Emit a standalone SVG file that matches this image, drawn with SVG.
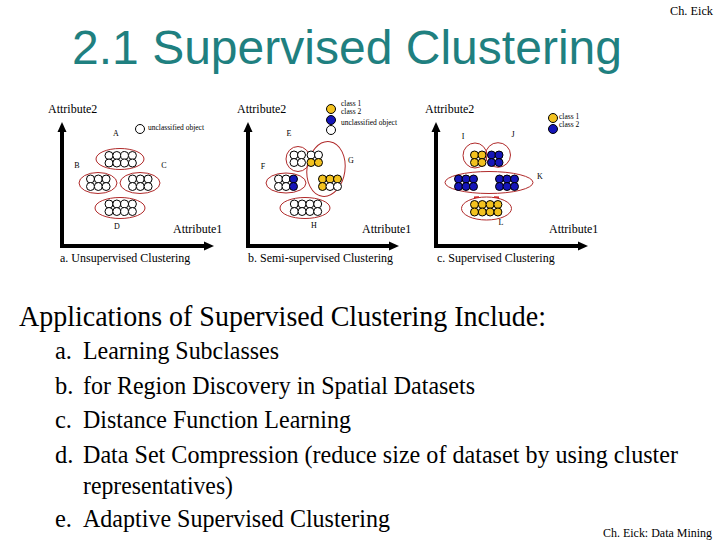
<svg xmlns="http://www.w3.org/2000/svg" width="720" height="540" viewBox="0 0 720 540">
<style>
.ser{font-family:"Liberation Serif","Times New Roman",serif;fill:#000}
.ax{font-size:12px}
.cap{font-size:12px}
.lb{font-size:8px;text-anchor:middle}
.sm{font-size:7.5px}
.w{fill:#fff;stroke:#000;stroke-width:1}
.y{fill:#f3c21f;stroke:#000;stroke-width:1}
.b{fill:#1515b8;stroke:#000;stroke-width:1}
.el{fill:none;stroke:#b02a2a;stroke-width:1}
.axis{fill:none;stroke:#000;stroke-width:4;marker-start:url(#ah);marker-end:url(#ah)}
.big{font-size:29px}
.li{font-size:24.5px}
</style>
<defs>
<marker id="ah" viewBox="0 0 10 10" markerWidth="10" markerHeight="10" refX="2" refY="5" orient="auto-start-reverse" markerUnits="userSpaceOnUse">
<path d="M0,0.5 L10,5 L0,9.5 z" fill="#000"/>
</marker>
</defs>
<rect width="720" height="540" fill="#fff"/>
<text x="670" y="15" class="ser" font-size="12" textLength="43" lengthAdjust="spacingAndGlyphs">Ch. Eick</text>
<text x="72" y="64" font-family="Liberation Sans, Arial, sans-serif" font-size="48" fill="#1f8080" textLength="550">2.1 Supervised Clustering</text>

<g id="connectors">
<path class="axis" d="M62,130 L62,246 L206,246"/>
<path class="axis" d="M248,130 L248,246 L391,246"/>
<path class="axis" d="M436,130 L436,246 L580,246"/>
</g>

<g id="panel-a">
<text x="48" y="113" class="ser ax">Attribute2</text>
<text x="173" y="233" class="ser ax">Attribute1</text>
<text x="60" y="262" class="ser cap">a. Unsupervised Clustering</text>
<text x="116" y="136" class="ser lb">A</text>
<text x="77" y="168" class="ser lb">B</text>
<text x="164" y="168" class="ser lb">C</text>
<text x="117" y="229" class="ser lb">D</text>
<circle cx="140" cy="129" r="4.5" class="w"/>
<text x="148" y="130" class="ser sm">unclassified object</text>
<g id="cluster-a-top">
<ellipse cx="120" cy="159" rx="24" ry="10.5" class="el"/>
<circle cx="109" cy="155.5" r="4" class="w"/><circle cx="116.8" cy="155.5" r="4" class="w"/><circle cx="124.6" cy="155.5" r="4" class="w"/><circle cx="132.4" cy="155.5" r="4" class="w"/>
<circle cx="109" cy="163" r="4" class="w"/><circle cx="116.8" cy="163" r="4" class="w"/><circle cx="124.6" cy="163" r="4" class="w"/><circle cx="132.4" cy="163" r="4" class="w"/>
</g>
<g id="cluster-a-left">
<ellipse cx="98" cy="183" rx="19" ry="10.5" class="el"/>
<circle cx="90.5" cy="179" r="4" class="w"/><circle cx="98.3" cy="179" r="4" class="w"/><circle cx="106.1" cy="179" r="4" class="w"/>
<circle cx="90.5" cy="186.5" r="4" class="w"/><circle cx="98.3" cy="186.5" r="4" class="w"/><circle cx="106.1" cy="186.5" r="4" class="w"/>
</g>
<g id="cluster-a-right">
<ellipse cx="140" cy="183" rx="20" ry="10.5" class="el"/>
<circle cx="132.5" cy="179" r="4" class="w"/><circle cx="140.3" cy="179" r="4" class="w"/><circle cx="148.1" cy="179" r="4" class="w"/>
<circle cx="132.5" cy="186.5" r="4" class="w"/><circle cx="140.3" cy="186.5" r="4" class="w"/><circle cx="148.1" cy="186.5" r="4" class="w"/>
</g>
<g id="cluster-a-bottom">
<ellipse cx="120" cy="208" rx="25" ry="10.5" class="el"/>
<circle cx="109" cy="204" r="4" class="w"/><circle cx="116.8" cy="204" r="4" class="w"/><circle cx="124.6" cy="204" r="4" class="w"/><circle cx="132.4" cy="204" r="4" class="w"/>
<circle cx="109" cy="211.5" r="4" class="w"/><circle cx="116.8" cy="211.5" r="4" class="w"/><circle cx="124.6" cy="211.5" r="4" class="w"/><circle cx="132.4" cy="211.5" r="4" class="w"/>
</g>
</g>

<g id="panel-b">
<text x="237" y="113" class="ser ax">Attribute2</text>
<text x="362" y="233" class="ser ax">Attribute1</text>
<text x="248" y="262" class="ser cap">b. Semi-supervised Clustering</text>
<g id="legend-b">
<circle cx="331" cy="109" r="4.5" class="y"/>
<circle cx="331" cy="120" r="4.5" class="b"/>
<circle cx="331" cy="130" r="4.5" class="w"/>
<text x="341" y="106" class="ser sm">class 1</text>
<text x="341" y="114" class="ser sm">class 2</text>
<text x="341" y="125" class="ser sm">unclassified object</text>
</g>
<text x="289" y="136" class="ser lb">E</text>
<text x="263" y="169" class="ser lb">F</text>
<text x="351" y="163" class="ser lb">G</text>
<text x="314" y="228" class="ser lb">H</text>
<g id="cluster-E">
<ellipse cx="298" cy="159" rx="12" ry="12.5" class="el"/>
</g>
<g id="cluster-G">
<ellipse cx="326" cy="169" rx="19" ry="27.5" transform="rotate(8 326 169)" class="el"/>
</g>
<g id="points-EG">
<circle cx="294" cy="155" r="4" class="w"/><circle cx="301.5" cy="155" r="4" class="w"/><circle cx="311" cy="155" r="4" class="w"/><circle cx="318.5" cy="155" r="4" class="w"/>
<circle cx="294" cy="162.5" r="4" class="w"/><circle cx="301.5" cy="162.5" r="4" class="w"/><circle cx="311" cy="162.5" r="4" class="y"/><circle cx="318.5" cy="162.5" r="4" class="y"/>
<circle cx="322.5" cy="179" r="4" class="y"/><circle cx="330" cy="179" r="4" class="y"/><circle cx="337.5" cy="179" r="4" class="y"/>
<circle cx="322.5" cy="186.5" r="4" class="y"/><circle cx="330" cy="186.5" r="4" class="w"/><circle cx="337.5" cy="186.5" r="4" class="w"/>
</g>
<g id="cluster-F">
<ellipse cx="286" cy="183" rx="20" ry="10" class="el"/>
<circle cx="278.5" cy="179" r="4" class="w"/><circle cx="286" cy="179" r="4" class="w"/><circle cx="293.5" cy="179" r="4" class="b"/>
<circle cx="278.5" cy="186.5" r="4" class="w"/><circle cx="286" cy="186.5" r="4" class="w"/><circle cx="293.5" cy="186.5" r="4" class="b"/>
</g>
<g id="cluster-H">
<ellipse cx="305" cy="208" rx="25" ry="10.5" class="el"/>
<circle cx="294.3" cy="204" r="4" class="w"/><circle cx="302.1" cy="204" r="4" class="w"/><circle cx="309.9" cy="204" r="4" class="w"/><circle cx="317.7" cy="204" r="4" class="w"/>
<circle cx="294.3" cy="211.5" r="4" class="w"/><circle cx="302.1" cy="211.5" r="4" class="w"/><circle cx="309.9" cy="211.5" r="4" class="w"/><circle cx="317.7" cy="211.5" r="4" class="w"/>
</g>
</g>

<g id="panel-c">
<text x="425" y="113" class="ser ax">Attribute2</text>
<text x="549" y="233" class="ser ax">Attribute1</text>
<text x="437" y="262" class="ser cap">c. Supervised Clustering</text>
<g id="legend-c">
<circle cx="553" cy="118" r="4.5" class="y"/>
<circle cx="553" cy="129" r="4.5" class="b"/>
<text x="559" y="119" class="ser sm">class 1</text>
<text x="559" y="127" class="ser sm">class 2</text>
</g>
<text x="463" y="139" class="ser lb">I</text>
<text x="513" y="137" class="ser lb">J</text>
<text x="540" y="179" class="ser lb">K</text>
<text x="501" y="225" class="ser lb">L</text>
<g id="cluster-I">
<ellipse cx="475" cy="155.5" rx="12" ry="12.5" class="el"/>
</g>
<g id="cluster-J">
<ellipse cx="498" cy="155" rx="12.5" ry="12.3" class="el"/>
</g>
<g id="points-IJ">
<circle cx="474.5" cy="155" r="4" class="y"/><circle cx="482" cy="155" r="4" class="y"/>
<circle cx="474.5" cy="162.5" r="4" class="y"/><circle cx="482" cy="162.5" r="4" class="y"/>
<circle cx="491.5" cy="155" r="4" class="b"/><circle cx="499" cy="155" r="4" class="b"/>
<circle cx="491.5" cy="162.5" r="4" class="b"/><circle cx="499" cy="162.5" r="4" class="b"/>
</g>
<g id="cluster-K">
<ellipse cx="489" cy="182.5" rx="44" ry="11" class="el"/>
<circle cx="458.5" cy="179" r="4" class="b"/><circle cx="466" cy="179" r="4" class="b"/><circle cx="473.5" cy="179" r="4" class="b"/>
<circle cx="458.5" cy="186.5" r="4" class="b"/><circle cx="466" cy="186.5" r="4" class="b"/><circle cx="473.5" cy="186.5" r="4" class="b"/>
<circle cx="499.5" cy="179" r="4" class="b"/><circle cx="507" cy="179" r="4" class="b"/><circle cx="514.5" cy="179" r="4" class="b"/>
<circle cx="499.5" cy="186.5" r="4" class="b"/><circle cx="507" cy="186.5" r="4" class="b"/><circle cx="514.5" cy="186.5" r="4" class="b"/>
</g>
<g id="cluster-L">
<ellipse cx="486.5" cy="208.5" rx="25" ry="11.5" class="el"/>
<path d="M474,197.3 L479,197.1 M494,197.1 L499,197.3" stroke="#d02020" stroke-width="1.5" fill="none"/>
<circle cx="474.5" cy="204.5" r="4" class="y"/><circle cx="482.3" cy="204.5" r="4" class="y"/><circle cx="490.1" cy="204.5" r="4" class="y"/><circle cx="497.9" cy="204.5" r="4" class="y"/>
<circle cx="474.5" cy="212" r="4" class="y"/><circle cx="482.3" cy="212" r="4" class="y"/><circle cx="490.1" cy="212" r="4" class="y"/><circle cx="497.9" cy="212" r="4" class="y"/>
</g>
</g>

<g id="applications">
<text x="19" y="326" class="ser big" textLength="527" lengthAdjust="spacingAndGlyphs">Applications of Supervised Clustering Include:</text>
<text x="55" y="359" class="ser li">a.</text>
<text x="83" y="359" class="ser li" textLength="196" lengthAdjust="spacingAndGlyphs">Learning Subclasses</text>
<text x="55" y="394" class="ser li">b.</text>
<text x="83" y="394" class="ser li" textLength="392" lengthAdjust="spacingAndGlyphs">for Region Discovery in Spatial Datasets</text>
<text x="55" y="428" class="ser li">c.</text>
<text x="83" y="428" class="ser li" textLength="268" lengthAdjust="spacingAndGlyphs">Distance Function Learning</text>
<text x="55" y="463" class="ser li">d.</text>
<text x="83" y="463" class="ser li" textLength="595" lengthAdjust="spacingAndGlyphs">Data Set Compression (reduce size of dataset by using cluster</text>
<text x="83" y="494" class="ser li" textLength="150" lengthAdjust="spacingAndGlyphs">representatives)</text>
<text x="55" y="527" class="ser li">e.</text>
<text x="83" y="527" class="ser li" textLength="307" lengthAdjust="spacingAndGlyphs">Adaptive Supervised Clustering</text>
</g>
<text x="603" y="537" class="ser" font-size="12" textLength="109" lengthAdjust="spacingAndGlyphs">Ch. Eick: Data Mining</text>
</svg>
